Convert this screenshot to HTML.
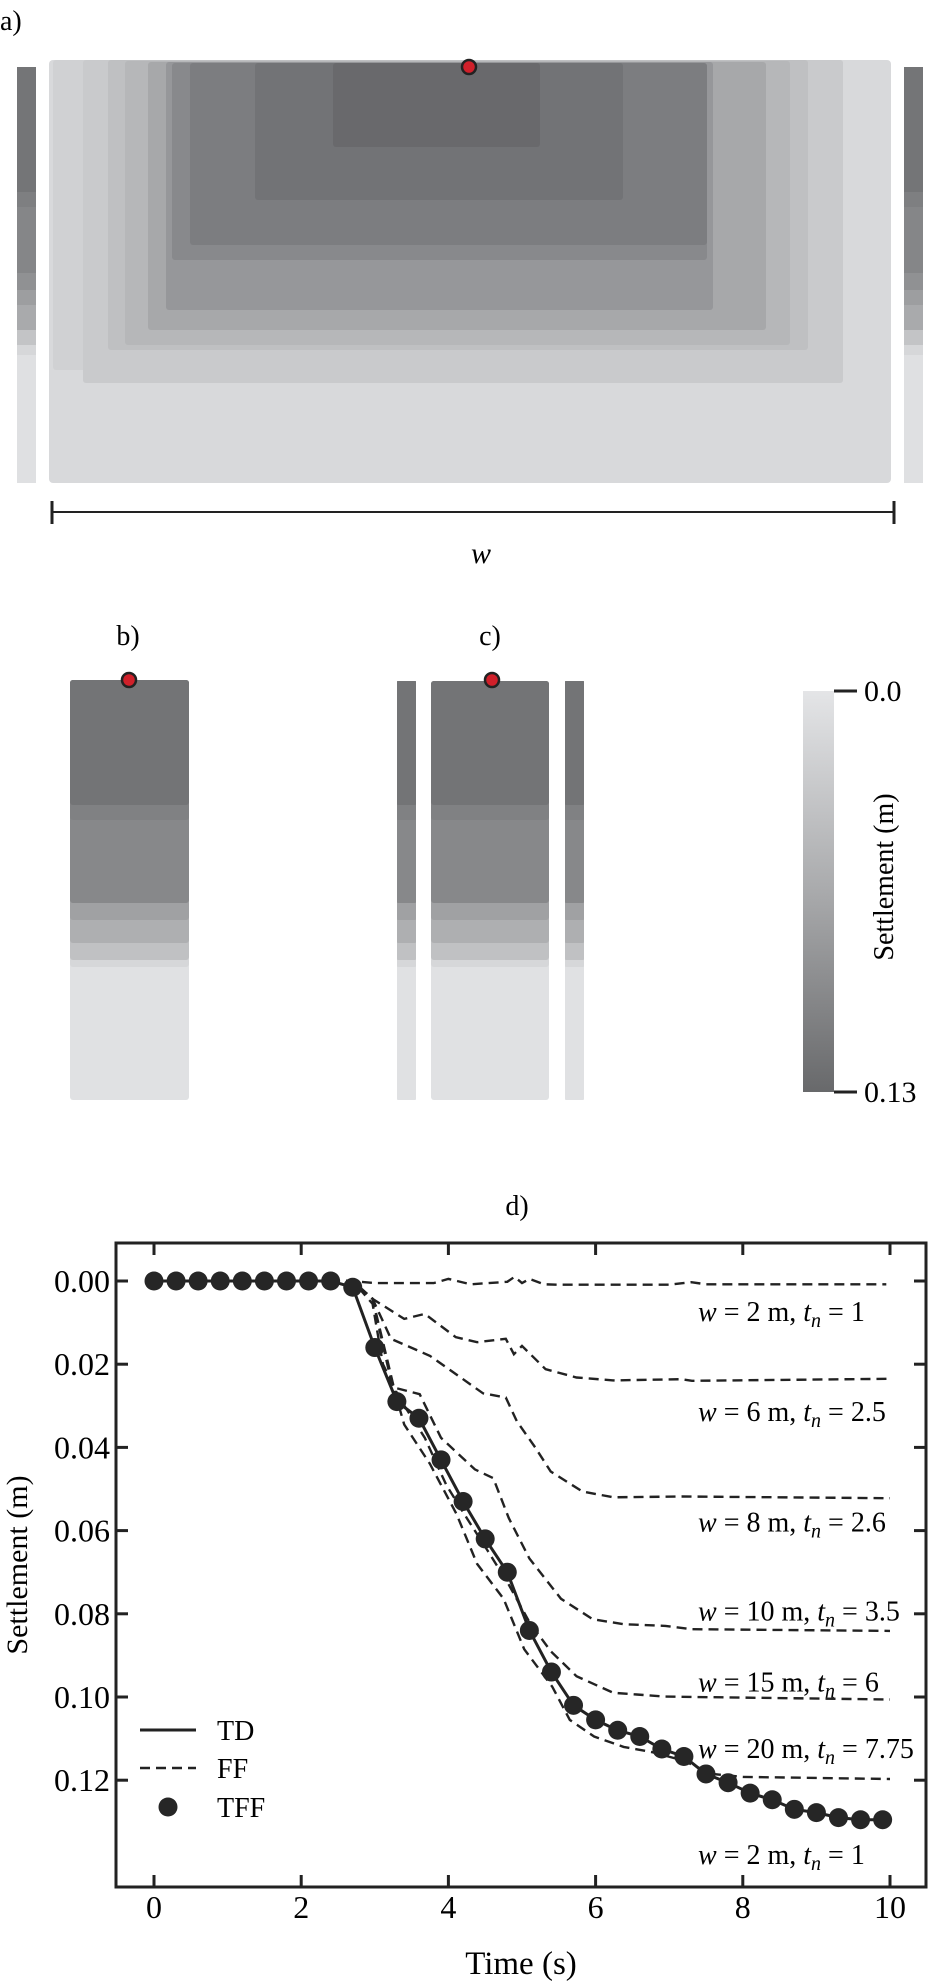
<!DOCTYPE html>
<html><head><meta charset="utf-8">
<style>
html,body{margin:0;padding:0;background:#fff;}
svg{display:block;font-family:"Liberation Serif",serif;}
</style></head>
<body>
<svg id="fig" width="931" height="1985" viewBox="0 0 931 1985" xmlns="http://www.w3.org/2000/svg">
  <!-- Panel a -->
  <g>
    <text x="0" y="30" font-size="28">a)</text>
    <g>
      <rect x="17" y="67" width="19" height="416" fill="#dfe0e2"/>
      <rect x="17" y="67" width="19" height="288" fill="#d6d7d9"/>
      <rect x="17" y="67" width="19" height="278" fill="#c3c4c6"/>
      <rect x="17" y="67" width="19" height="263" fill="#a9aaac"/>
      <rect x="17" y="67" width="19" height="238" fill="#9d9ea0"/>
      <rect x="17" y="67" width="19" height="223" fill="#909193"/>
      <rect x="17" y="67" width="19" height="206" fill="#858688"/>
      <rect x="17" y="67" width="19" height="140" fill="#7e7f81"/>
      <rect x="17" y="67" width="19" height="125" fill="#747577"/>
    </g>
    <g>
      <rect x="904" y="67" width="19" height="416" fill="#dfe0e2"/>
      <rect x="904" y="67" width="19" height="288" fill="#d6d7d9"/>
      <rect x="904" y="67" width="19" height="278" fill="#c3c4c6"/>
      <rect x="904" y="67" width="19" height="263" fill="#a9aaac"/>
      <rect x="904" y="67" width="19" height="238" fill="#9d9ea0"/>
      <rect x="904" y="67" width="19" height="223" fill="#909193"/>
      <rect x="904" y="67" width="19" height="206" fill="#858688"/>
      <rect x="904" y="67" width="19" height="140" fill="#7e7f81"/>
      <rect x="904" y="67" width="19" height="125" fill="#747577"/>
    </g>
    <g>
      <rect x="49" y="60" width="842" height="423" rx="4" fill="#d8d9db"/>
      <rect x="53" y="60" width="790" height="310" rx="3" fill="#d0d1d3"/>
      <rect x="83" y="60" width="760" height="323" rx="3" fill="#c9cacc"/>
      <rect x="108" y="60" width="700" height="290" rx="3" fill="#bfc0c2"/>
      <rect x="125" y="61" width="665" height="284" rx="3" fill="#b6b7b9"/>
      <rect x="148" y="62" width="618" height="268" rx="3" fill="#a7a8aa"/>
      <rect x="166" y="62" width="547" height="248" rx="3" fill="#96979a"/>
      <rect x="172" y="63" width="535" height="197" rx="3" fill="#88898c"/>
      <rect x="190" y="63" width="517" height="182" rx="3" fill="#7c7d80"/>
      <rect x="255" y="63" width="368" height="137" rx="3" fill="#727376"/>
      <rect x="333" y="63" width="207" height="84" rx="3" fill="#69696c"/>
    </g>
    <circle cx="469" cy="67" r="7" fill="#d0202a" stroke="#222" stroke-width="2.5"/>
    <g stroke="#222">
      <line x1="52" y1="512" x2="894" y2="512" stroke-width="2"/>
      <line x1="52" y1="501" x2="52" y2="524" stroke-width="3"/>
      <line x1="894" y1="501" x2="894" y2="524" stroke-width="3"/>
    </g>
    <text x="481" y="563" font-size="30" font-style="italic" text-anchor="middle">w</text>
  </g>

  <!-- Panel b -->
  <g>
    <text x="128" y="645" font-size="28" text-anchor="middle">b)</text>
    <g>
      <rect x="70" y="680" width="119" height="420" rx="3" fill="#e0e1e3"/>
      <rect x="70" y="680" width="119" height="287" rx="3" fill="#d6d7d9"/>
      <rect x="70" y="680" width="119" height="280" rx="3" fill="#c0c1c3"/>
      <rect x="70" y="680" width="119" height="263" rx="3" fill="#aeafb1"/>
      <rect x="70" y="680" width="119" height="240" rx="3" fill="#a0a1a3"/>
      <rect x="70" y="680" width="119" height="223" rx="3" fill="#87888a"/>
      <rect x="70" y="680" width="119" height="140" rx="3" fill="#808183"/>
      <rect x="70" y="680" width="119" height="125" rx="3" fill="#737476"/>
    </g>
    <circle cx="129" cy="680" r="7" fill="#d0202a" stroke="#222" stroke-width="2.5"/>
  </g>

  <!-- Panel c -->
  <g>
    <text x="490" y="645" font-size="28" text-anchor="middle">c)</text>
    <g id="ccols"></g>
    <circle cx="492" cy="680" r="7" fill="#d0202a" stroke="#222" stroke-width="2.5"/>
  </g>

  <!-- Colorbar -->
  <defs>
    <linearGradient id="cbar" x1="0" y1="0" x2="0" y2="1">
      <stop offset="0" stop-color="#e4e5e7"/>
      <stop offset="0.5" stop-color="#a9aaac"/>
      <stop offset="1" stop-color="#68696b"/>
    </linearGradient>
  </defs>
  <g>
    <rect x="803" y="691" width="31" height="401" fill="url(#cbar)"/>
    <line x1="834" y1="691" x2="857" y2="691" stroke="#222" stroke-width="3"/>
    <line x1="834" y1="1092" x2="857" y2="1092" stroke="#222" stroke-width="3"/>
    <text x="864" y="701" font-size="30">0.0</text>
    <text x="864" y="1102" font-size="30">0.13</text>
    <text transform="translate(893,877) rotate(-90)" font-size="28" text-anchor="middle">Settlement (m)</text>
  </g>

  <text x="517" y="1215" font-size="28" text-anchor="middle">d)</text>
  <g id="chart"></g>
</svg>
<script>
// ---- Chart data ----
const tffTime = [0,0.3,0.6,0.9,1.2,1.5,1.8,2.1,2.4,2.7,3.0,3.3,3.6,3.9,4.2,4.5,4.8,5.1,5.4,5.7,6.0,6.3,6.6,6.9,7.2,7.5,7.8,8.1,8.4,8.7,9.0,9.3,9.6,9.9];
const tdSettlement = [0,0,0,0,0,0,0,0,0,0.0015,0.016,0.029,0.033,0.043,0.053,0.062,0.070,0.084,0.094,0.102,0.1055,0.108,0.1095,0.1125,0.1143,0.1185,0.1206,0.1231,0.1247,0.127,0.1278,0.129,0.1295,0.1295];
const tffSettlement = [0,0,0,0,0,0,0,0,0,0.0015,0.016,0.029,0.033,0.043,0.053,0.062,0.070,0.084,0.094,0.102,0.1055,0.108,0.1095,0.1125,0.1143,0.1185,0.1206,0.1231,0.1247,0.127,0.1278,0.129,0.1295,0.1295];
const ffW2T = [0,2.7,2.8,3.0,3.8,4.0,4.3,4.8,4.9,5.0,5.1,5.3,5.5,7.0,7.3,7.5,9.95];
const ffW2S = [0,0,0.0002,0.0005,0.0005,-0.0005,0.0008,0.0002,-0.001,0.0005,-0.0005,0.0008,0.0009,0.0009,0.0003,0.0008,0.0008];
const ffW6T = [0,2.7,2.97,3.4,3.68,4.1,4.39,4.78,4.89,5.0,5.32,5.74,6.24,7.17,7.31,10.0];
const ffW6S = [0,0,0.0043,0.0091,0.0079,0.0135,0.0147,0.0139,0.0176,0.0156,0.0212,0.0232,0.0239,0.0236,0.024,0.0235];
const ffW8T = [0,2.7,2.97,3.22,3.75,4.04,4.47,4.78,4.93,5.18,5.39,5.82,6.24,7.17,10.0];
const ffW8S = [0,0,0.0043,0.0139,0.018,0.0216,0.027,0.028,0.0337,0.040,0.0458,0.0506,0.052,0.0518,0.0522];
const ffW10T = [0,2.7,2.97,3.26,3.61,3.9,4.36,4.61,4.82,5.1,5.53,5.96,6.38,6.95,7.31,10.0];
const ffW10S = [0,0,0.0043,0.0256,0.0272,0.0377,0.0453,0.0474,0.057,0.0667,0.0764,0.0813,0.0825,0.0829,0.0837,0.0841];
const ffW15T = [0,2.7,2.97,3.11,3.33,3.68,3.97,4.25,4.54,4.82,5.1,5.39,5.74,6.24,6.95,10.0];
const ffW15S = [0,0,0.0055,0.02,0.028,0.0377,0.049,0.057,0.065,0.073,0.082,0.089,0.095,0.099,0.0999,0.1006];
const ffW20T = [0,2.7,2.97,3.19,3.4,3.75,4.11,4.39,4.75,5.03,5.41,5.65,5.98,6.38,6.78,7.19,7.59,8.0,10.0];
const ffW20S = [0,0,0.0043,0.0216,0.0345,0.044,0.056,0.068,0.0764,0.0885,0.0975,0.1055,0.1095,0.112,0.1133,0.1153,0.1185,0.1192,0.1197];
const xTicks = [0,2,4,6,8,10];
const yTicks = [0,0.02,0.04,0.06,0.08,0.10,0.12];
const yTickLabels = ["0.00","0.02","0.04","0.06","0.08","0.10","0.12"];
const annotW = ["2","6","8","10","15","20","2"];
const annotTn = ["1","2.5","2.6","3.5","6","7.75","1"];
const annotY = [0.0075,0.0315,0.058,0.0795,0.0965,0.1125,0.138];

// panel c column bands (settlement ratio bands)
const NS = "http://www.w3.org/2000/svg";
function mk(tag, attrs, parent){const e=document.createElementNS(NS,tag);for(const k in attrs)e.setAttribute(k,attrs[k]);parent.appendChild(e);return e;}
const bandH = [420,287,280,263,240,223,140,125];
const bandC = ["#e0e1e3","#d6d7d9","#c0c1c3","#aeafb1","#a0a1a3","#87888a","#808183","#737476"];
const ccols = document.getElementById('ccols');
[[397,19],[431,118],[565,19]].forEach(function(c,ci){
  const g = mk('g',{},ccols);
  
  
  bandH.forEach(function(h,i){ mk('rect',{x:c[0],y:681,width:c[1],height:h-1,rx:ci===1?3:1,fill:bandC[i]},g); });
});

// axes
const X0=116, X1=926, Y0=1243, Y1=1887;
const xs = t => 154 + t*73.6;
const ys = s => 1281 + s*4160;
const chart = document.getElementById('chart');

function pathOf(T,S){return T.map((t,i)=>(i?'L':'M')+xs(t).toFixed(1)+' '+ys(S[i]).toFixed(1)).join(' ');}

const ffT=[ffW2T,ffW6T,ffW8T,ffW10T,ffW15T,ffW20T], ffS=[ffW2S,ffW6S,ffW8S,ffW10S,ffW15S,ffW20S];
ffT.forEach(function(T,k){
  const p = mk('path',{d:pathOf(T,ffS[k]),fill:'none',stroke:'#222','stroke-width':2.4,'stroke-dasharray':'10 6'},chart);
  
  
});
const td = mk('path',{d:pathOf(tffTime,tdSettlement),fill:'none',stroke:'#222','stroke-width':3},chart);


tffTime.forEach(function(t,i){
  const c = mk('circle',{cx:xs(t),cy:ys(tffSettlement[i]),r:9.5,fill:'#262626'},chart);
  
  
});

// frame
const fr = mk('rect',{x:X0,y:Y0,width:X1-X0,height:Y1-Y0,fill:'none',stroke:'#222','stroke-width':3},chart);



xTicks.forEach(function(t){
  const x=xs(t);
  mk('line',{x1:x,y1:Y1,x2:x,y2:Y1-12,stroke:'#222','stroke-width':3},chart);
  mk('line',{x1:x,y1:Y0,x2:x,y2:Y0+12,stroke:'#222','stroke-width':3},chart);
  const tx = mk('text',{x:x,y:1918,'font-size':32,'text-anchor':'middle'},chart);
  tx.textContent = String(t);
  
  
});
yTicks.forEach(function(s,i){
  const y=ys(s);
  mk('line',{x1:X0,y1:y,x2:X0+12,y2:y,stroke:'#222','stroke-width':3},chart);
  mk('line',{x1:X1,y1:y,x2:X1-12,y2:y,stroke:'#222','stroke-width':3},chart);
  const tx = mk('text',{x:110,y:y+11,'font-size':32,'text-anchor':'end'},chart);
  tx.textContent = yTickLabels[i];
  
  
});

const xt = mk('text',{x:521,y:1974,'font-size':33,'text-anchor':'middle'},chart);
xt.textContent='Time (s)';


const yt = mk('text',{transform:'translate(27,1565) rotate(-90)','font-size':30,'text-anchor':'middle'},chart);
yt.textContent='Settlement (m)';



// annotations
annotW.forEach(function(w,i){
  const tx = mk('text',{x:698,y:ys(annotY[i])+9,'font-size':28},chart);
  tx.innerHTML = '<tspan font-style="italic">w</tspan> = '+w+' m, <tspan font-style="italic">t</tspan><tspan font-style="italic" font-size="20" dy="6">n</tspan><tspan dy="-6"> = '+annotTn[i]+'</tspan>';
  
  
});

// legend
const lg = mk('g',{},chart);


mk('line',{x1:140,y1:1730,x2:196,y2:1730,stroke:'#222','stroke-width':3},lg);
mk('line',{x1:140,y1:1768,x2:196,y2:1768,stroke:'#222','stroke-width':2.4,'stroke-dasharray':'10 6'},lg);
mk('circle',{cx:168,cy:1807,r:9.5,fill:'#262626'},lg);
[['TD',1730],['FF',1768],['TFF',1807]].forEach(function(e){
  const tx = mk('text',{x:217,y:e[1]+10,'font-size':28},lg);
  tx.textContent = e[0];
  
  
});
</script>
</body></html>
